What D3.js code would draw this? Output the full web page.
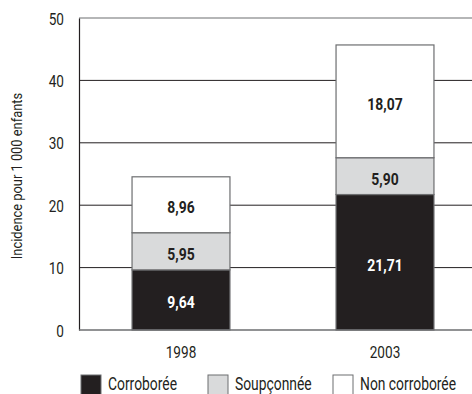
<!DOCTYPE html>
<html>
<head>
<meta charset="utf-8">
<script src="https://cdn.jsdelivr.net/npm/d3@7/dist/d3.min.js"></script>
<style>
  html, body { margin: 0; padding: 0; background: #fff; }
  svg { display: block; }
  text { font-family: "Roboto", "Liberation Sans", sans-serif; fill: #231f20; }
</style>
</head>
<body>
<script>
// Incidence of investigations per 1 000 children, by outcome
const years = ["1998", "2003"];
const seriesNames = ["Corroborée", "Soupçonnée", "Non corroborée"];
const corroboree = [9.64, 21.71];
const soupconnee = [5.95, 5.90];
const nonCorroboree = [8.96, 18.07];
const yTicks = [0, 10, 20, 30, 40, 50];
const yTitle = "Incidence pour 1 000 enfants";

const fills = ["#231f20", "#d9dadb", "#ffffff"];
const labelFills = ["#ffffff", "#231f20", "#231f20"];

const W = 472, H = 394;
const margin = { left: 79, top: 18, bottom: 64 };
const plotRight = 487;
const narrow = 0.8; // horizontal squeeze for a condensed look

const svg = d3.select("body").append("svg").attr("width", W).attr("height", H);

// places a text at (x, y) and squeezes it horizontally around that point
function condensed(sel, x, y, k = narrow) {
  return sel.attr("x", null).attr("y", null).attr("dy", null)
    .attr("transform", (d, i) => `translate(${typeof x === "function" ? x(d, i) : x},${typeof y === "function" ? y(d, i) : y}) scale(${k},1)`);
}

const rows = years.map((y, i) => ({
  year: y,
  "Corroborée": corroboree[i],
  "Soupçonnée": soupconnee[i],
  "Non corroborée": nonCorroboree[i]
}));
const stacked = d3.stack().keys(seriesNames)(rows);

const x = d3.scaleBand().domain(years).range([margin.left, plotRight]).paddingInner(0.52).paddingOuter(0.26);
const y = d3.scaleLinear().domain([0, 50]).range([H - margin.bottom, margin.top]);

// gridlines
svg.append("g").selectAll("line").data(yTicks.filter(t => t > 0 && t < 50)).join("line")
  .attr("x1", margin.left).attr("x2", plotRight)
  .attr("y1", d => y(d)).attr("y2", d => y(d))
  .attr("stroke", "#231f20").attr("stroke-width", 1);
// top frame line
svg.append("line").attr("x1", margin.left).attr("x2", plotRight)
  .attr("y1", y(50)).attr("y2", y(50)).attr("stroke", "#6d6e70").attr("stroke-width", 1.2);

// y axis
const yAxis = svg.append("g").attr("transform", `translate(${margin.left},0)`)
  .call(d3.axisLeft(y).tickValues(yTicks).tickSize(0));
yAxis.select(".domain").attr("stroke", "#231f20").attr("stroke-width", 1.2);
condensed(yAxis.selectAll("text").style("font-size", "17px").attr("fill", "#231f20"), -15, 6);

// bars
const groups = svg.append("g").selectAll("g").data(stacked).join("g")
  .attr("fill", (d, i) => fills[i]);
groups.selectAll("rect").data(d => d.map(v => ({ v, year: v.data.year }))).join("rect")
  .attr("x", d => x(d.year))
  .attr("width", x.bandwidth())
  .attr("y", d => y(d.v[1]))
  .attr("height", d => y(d.v[0]) - y(d.v[1]))
  .attr("stroke", "#6d6e70").attr("stroke-width", 1.2);

// value labels
stacked.forEach((s, i) => {
  const t = svg.append("g").selectAll("text").data(s).join("text")
    .attr("text-anchor", "middle")
    .style("font-size", "17px").style("font-weight", "bold")
    .style("fill", labelFills[i])
    .text(d => (d[1] - d[0]).toFixed(2).replace(".", ","));
  condensed(t, d => x(d.data.year) + x.bandwidth() / 2, d => y((d[0] + d[1]) / 2) + 8.5, 0.82);
});

// x axis
const xAxis = svg.append("g").attr("transform", `translate(0,${y(0)})`)
  .call(d3.axisBottom(x).tickSize(0));
xAxis.select(".domain").attr("stroke", "#6d6e70").attr("stroke-width", 1.5)
  .attr("d", `M${margin.left},0H${plotRight}`);
condensed(xAxis.selectAll("text").style("font-size", "17px").attr("fill", "#231f20"), 0, 28);

// y title
svg.append("text")
  .attr("transform", `translate(22,${y(25) + 2}) rotate(-90) scale(0.92,1)`)
  .attr("text-anchor", "middle")
  .style("font-size", "14px")
  .text(yTitle);

// legend
const legendX = [81, 208, 333];
const legend = svg.append("g").selectAll("g").data(seriesNames).join("g")
  .attr("transform", (d, i) => `translate(${legendX[i]},375)`);
legend.append("rect").attr("width", 20).attr("height", 24)
  .attr("fill", (d, i) => fills[i]).attr("stroke", "#6d6e70").attr("stroke-width", 1);
condensed(legend.append("text").style("font-size", "18px").text(d => d), 27, 14.5, 0.77);
</script>
</body>
</html>
